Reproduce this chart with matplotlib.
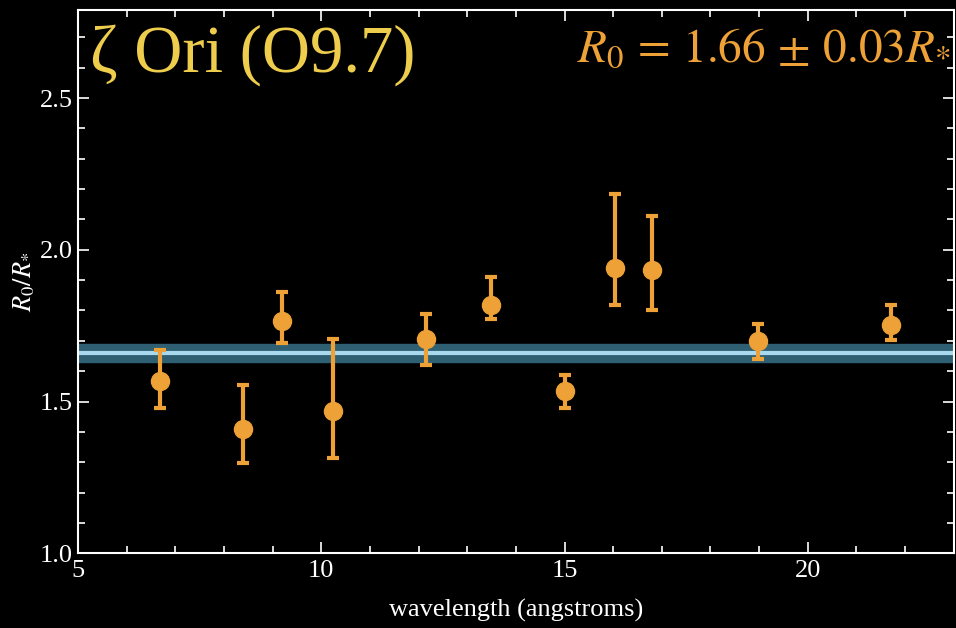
import matplotlib
matplotlib.use("Agg")
import matplotlib.pyplot as plt
import numpy as np

# region Source Data
wavelength = np.array([6.68, 8.39, 9.19, 10.24, 12.15, 13.48, 15.02, 16.03, 16.79, 18.98, 21.71])
ratio = np.array([1.568, 1.41, 1.766, 1.47, 1.706, 1.818, 1.535, 1.94, 1.934, 1.70, 1.752])
err_hi = np.array([1.67, 1.555, 1.86, 1.706, 1.79, 1.91, 1.587, 2.185, 2.112, 1.756, 1.818])
err_lo = np.array([1.48, 1.297, 1.693, 1.314, 1.62, 1.772, 1.48, 1.818, 1.80, 1.64, 1.703])

r0_fit = 1.66
r0_err = 0.03
# endregion

orange = "#eda136"
yellow = "#eecd4c"

plt.rcParams['font.family'] = ['Liberation Serif', 'DejaVu Serif']
plt.rcParams['mathtext.fontset'] = 'stix'

fig = plt.figure(figsize=(9.56, 6.28), dpi=100, facecolor="black")
ax = fig.add_axes([0.0816, 0.119, 0.916, 0.865], facecolor="black")

# fit band
ax.axhspan(r0_fit - r0_err, r0_fit + r0_err, color="#2f5f73", zorder=1)
ax.axhline(r0_fit, color="#a9d9ef", linewidth=3, zorder=2)

yerr = np.vstack([ratio - err_lo, err_hi - ratio])
ax.errorbar(wavelength, ratio, yerr=yerr, fmt='o', color=orange, markersize=13,
            elinewidth=3, capsize=4.5, capthick=3, zorder=3)

ax.set_xlim(5, 23)
ax.set_ylim(1.0, 2.79)
ax.set_xticks([5, 10, 15, 20])
ax.set_xticks(np.arange(5, 23, 1), minor=True)
ax.set_yticks([1.0, 1.5, 2.0, 2.5])
ax.set_yticks(np.arange(1.0, 2.8, 0.1), minor=True)
ax.set_yticklabels(["1.0", "1.5", "2.0", "2.5"])

for side in ax.spines.values():
    side.set_color("white")
    side.set_linewidth(1.5)
ax.tick_params(which="both", direction="in", top=True, right=True, colors="white",
               labelsize=19, width=1.2)
ax.tick_params(which="major", length=8)
ax.tick_params(which="minor", length=5)
ax.tick_params(axis="x", pad=5)

ax.set_xlabel("wavelength (angstroms)", color="white", fontsize=19, labelpad=12)
ax.set_ylabel(r"$R_0/R_{*}$", color="white", fontsize=19, labelpad=2)

ax.text(0.014, 0.975, "ζ Ori (O9.7)", transform=ax.transAxes, color=yellow,
        fontsize=48, ha="left", va="top")
ax.text(0.996, 0.966, r"$R_0\, =\, 1.66\, \pm\, 0.03 R_{*}$", transform=ax.transAxes,
        color=orange, fontsize=34, ha="right", va="top")

fig.savefig("out.png", dpi=100, facecolor="black")
